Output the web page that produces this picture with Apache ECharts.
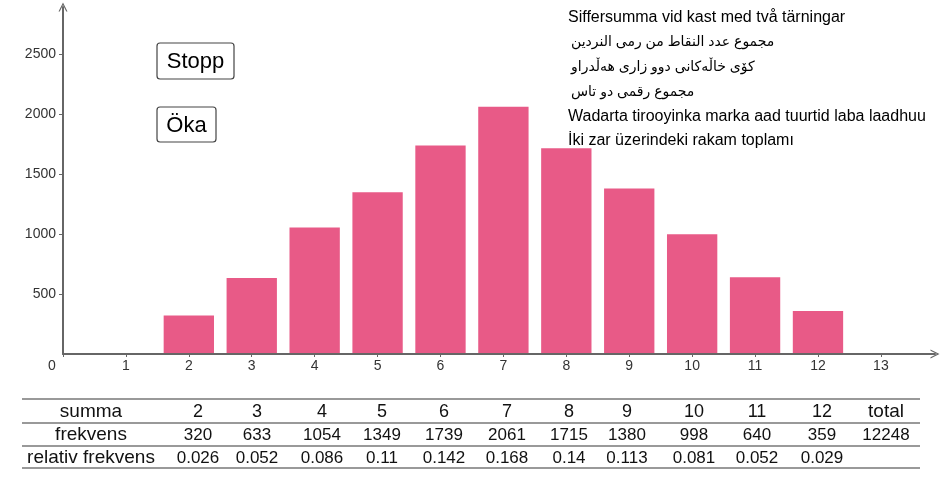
<!DOCTYPE html>
<html>
<head>
<meta charset="utf-8">
<script src="https://cdn.jsdelivr.net/npm/echarts@6/dist/echarts.min.js"></script>
<style>html,body{margin:0;padding:0;background:#fff;}#c{width:945px;height:501px;}</style>
</head>
<body>
<div id="c"></div>
<script>
const sums = [2, 3, 4, 5, 6, 7, 8, 9, 10, 11, 12];
const freq = [320, 633, 1054, 1349, 1739, 2061, 1715, 1380, 998, 640, 359];
const relFreq = ['0.026', '0.052', '0.086', '0.11', '0.142', '0.168', '0.14', '0.113', '0.081', '0.052', '0.029'];
const total = 12248;
const xTicks = [0, 1, 2, 3, 4, 5, 6, 7, 8, 9, 10, 11, 12, 13];
const yTicks = [500, 1000, 1500, 2000, 2500];
const rowLabels = ['summa', 'frekvens', 'relativ frekvens'];
const titleLines = [
  'Siffersumma vid kast med två tärningar',
  'مجموع عدد النقاط من رمى النردين',
  'کۆی خاڵەکانی دوو زاری هەڵدراو',
  'مجموع رقمی دو تاس',
  'Wadarta tirooyinka marka aad tuurtid laba laadhuu',
  'İki zar üzerindeki rakam toplamı'
];
const buttons = ['Stopp', 'Öka'];

// layout (not data)
const colX = [198, 257, 322, 382, 444, 507, 569, 627, 694, 757, 822];
const totalX = 886;
const labelX = 91;
const rowY = [412, 435, 458];
const tableLines = [399, 423, 446, 468];
const barColor = '#E85A87';
const arrowPath = 'path://M0,10 L5,0 L10,10 L8.6,10 L5,2.8 L1.4,10 Z';
const latinFont = '"Liberation Sans", Arial, sans-serif';

const chart = echarts.init(document.getElementById('c'));

const graphics = [];
// buttons
const btnBoxes = [{x:157, y:43, w:77, h:36}, {x:157, y:107, w:59, h:35}];
buttons.forEach((b, i) => {
  const bb = btnBoxes[i];
  graphics.push({type:'rect', shape:{x:bb.x, y:bb.y, width:bb.w, height:bb.h, r:3},
    style:{fill:'#fff', stroke:'#444', lineWidth:1.2}, z:10});
  graphics.push({type:'text', x:bb.x + bb.w/2, y:bb.y + bb.h/2 + 1,
    style:{text:b, font:'22px ' + latinFont, fill:'#000', textAlign:'center', textVerticalAlign:'middle'}, z:11});
});
// title lines
titleLines.forEach((t, i) => {
  const isArabic = /[\u0600-\u06FF]/.test(t);
  graphics.push({type:'text', x: isArabic ? 571 : 568, y:18 + i*24.6,
    style:{text:t, font:(isArabic ? '14px ' : '16px ') + '"Liberation Sans", "DejaVu Sans", Arial, sans-serif',
      fill:'#000', textAlign:'left', textVerticalAlign:'middle'}, z:10});
});
// table lines
tableLines.forEach(y => {
  graphics.push({type:'line', shape:{x1:22, y1:y, x2:920, y2:y}, style:{stroke:'#777', lineWidth:1.3}});
});
function cell(txt, x, y, size) {
  graphics.push({type:'text', x:x, y:y, style:{text:String(txt), font:size + 'px ' + latinFont, fill:'#111', textAlign:'center', textVerticalAlign:'middle'}});
}
rowLabels.forEach((r, i) => cell(r, labelX, rowY[i], 19));
sums.forEach((s, i) => {
  cell(s, colX[i], rowY[0], 18);
  cell(freq[i], colX[i], rowY[1], 17);
  cell(relFreq[i], colX[i], rowY[2], 17);
});
cell('total', totalX, rowY[0], 19);
cell(total, totalX, rowY[1], 17);

const axisCommon = {
  axisLine: {show:true, symbol:['none', arrowPath], symbolSize:[10, 9], lineStyle:{color:'#666', width:2}},
  splitLine: {show:false}
};

chart.setOption({
  animation: false,
  backgroundColor: '#fff',
  grid: {left:63, right:10, top:7, bottom:147, containLabel:false},
  xAxis: Object.assign({
    type:'value', min:0, max:13.86,
    axisTick:{show:true, length:3, inside:false, lineStyle:{color:'#666'}, customValues: xTicks},
    axisLabel:{customValues: xTicks, color:'#333', fontSize:14, margin:5,
      fontFamily:latinFont,
      formatter: v => v === 0 ? '{o|0}' : String(v),
      rich:{o:{padding:[0, 22, 0, 0], fontSize:14, color:'#333', fontFamily:latinFont}}}
  }, axisCommon),
  yAxis: Object.assign({
    type:'value', min:0, max:2893,
    axisTick:{show:true, length:4, lineStyle:{color:'#666'}, customValues: yTicks},
    axisLabel:{customValues: yTicks, color:'#333', fontSize:14, margin:7,
      fontFamily:latinFont, formatter: v => String(v)}
  }, axisCommon),
  graphic: graphics,
  series: [{
    type:'custom',
    data: sums.map((s, i) => [s, freq[i]]),
    encode:{x:0, y:1},
    renderItem: function (params, api) {
      const x = api.value(0), v = api.value(1);
      const p0 = api.coord([x - 0.4, v]);
      const p1 = api.coord([x + 0.4, 0]);
      return {type:'rect', shape:{x:p0[0], y:p0[1], width:p1[0]-p0[0], height:p1[1]-p0[1] - 1},
        style:{fill: barColor}};
    }
  }]
});
</script>
</body>
</html>
